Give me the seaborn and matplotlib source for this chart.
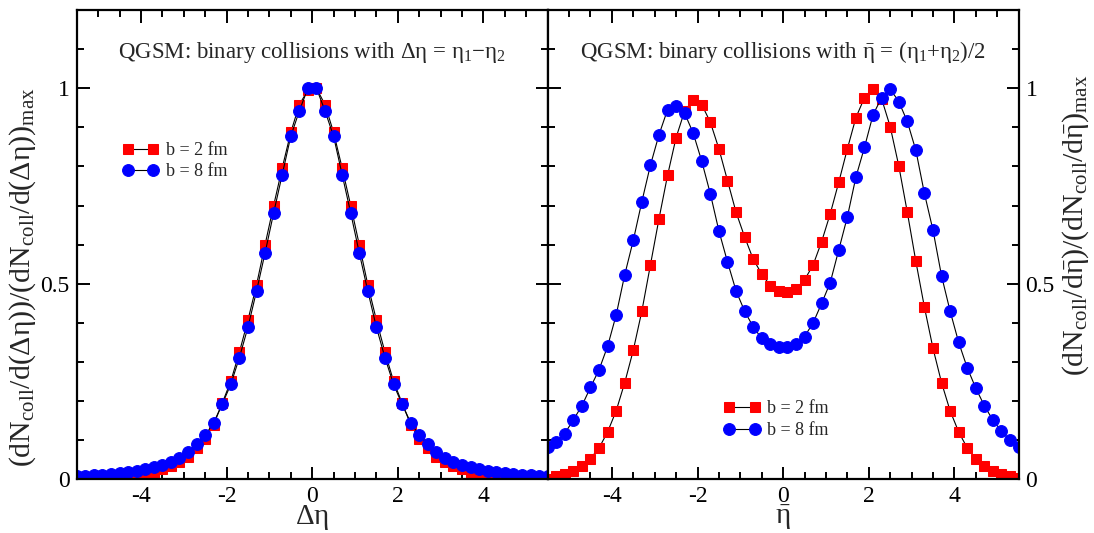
import numpy as np
import pandas as pd
import seaborn as sns
import matplotlib.pyplot as plt
from matplotlib.ticker import MultipleLocator

# bin centres (both panels use the same grid)
eta = [-5.5, -5.3, -5.1, -4.9, -4.7, -4.5, -4.3, -4.1, -3.9, -3.7, -3.5, -3.3, -3.1, -2.9,
       -2.7, -2.5, -2.3, -2.1, -1.9, -1.7, -1.5, -1.3, -1.1, -0.9, -0.7, -0.5, -0.3, -0.1,
       0.1, 0.3, 0.5, 0.7, 0.9, 1.1, 1.3, 1.5, 1.7, 1.9, 2.1, 2.3, 2.5, 2.7,
       2.9, 3.1, 3.3, 3.5, 3.7, 3.9, 4.1, 4.3, 4.5, 4.7, 4.9, 5.1, 5.3, 5.5]

# left panel: delta eta distribution
deta_b2 = [0.000, 0.001, 0.001, 0.002, 0.003, 0.004, 0.006, 0.009, 0.012, 0.017, 0.025, 0.034,
           0.045, 0.058, 0.079, 0.104, 0.140, 0.195, 0.251, 0.325, 0.407, 0.497, 0.600, 0.700,
           0.796, 0.887, 0.958, 0.995,
           1.000, 0.958, 0.887, 0.796, 0.700, 0.600, 0.497, 0.407, 0.325, 0.251, 0.195, 0.140,
           0.104, 0.079, 0.058, 0.045, 0.034, 0.025, 0.017, 0.012, 0.009, 0.006, 0.004, 0.003,
           0.002, 0.001, 0.001, 0.000]
deta_b8 = [0.008, 0.009, 0.010, 0.012, 0.014, 0.016, 0.019, 0.022, 0.025, 0.031, 0.037, 0.044,
           0.054, 0.070, 0.090, 0.112, 0.145, 0.192, 0.243, 0.311, 0.389, 0.481, 0.579, 0.681,
           0.779, 0.877, 0.942, 1.000,
           1.000, 0.942, 0.877, 0.779, 0.681, 0.579, 0.481, 0.389, 0.311, 0.243, 0.192, 0.145,
           0.112, 0.090, 0.070, 0.054, 0.044, 0.037, 0.031, 0.025, 0.022, 0.019, 0.016, 0.014,
           0.012, 0.010, 0.009, 0.008]

# right panel: mean eta distribution
meta_b2 = [0.001, 0.009, 0.014, 0.022, 0.033, 0.053, 0.080, 0.121, 0.175, 0.247, 0.330, 0.430,
           0.548, 0.666, 0.777, 0.874, 0.942, 0.970, 0.958, 0.913, 0.845, 0.764, 0.683, 0.620,
           0.563, 0.525, 0.495, 0.482,
           0.478, 0.487, 0.510, 0.548, 0.608, 0.679, 0.760, 0.845, 0.925, 0.976, 0.998, 0.973,
           0.902, 0.802, 0.683, 0.557, 0.440, 0.335, 0.247, 0.175, 0.121, 0.080, 0.053, 0.033,
           0.022, 0.014, 0.009, 0.002]
meta_b8 = [0.082, 0.095, 0.117, 0.152, 0.188, 0.235, 0.280, 0.340, 0.420, 0.523, 0.611, 0.710,
           0.803, 0.881, 0.945, 0.955, 0.936, 0.885, 0.813, 0.730, 0.635, 0.556, 0.482, 0.430,
           0.390, 0.360, 0.345, 0.337,
           0.337, 0.345, 0.365, 0.400, 0.450, 0.503, 0.587, 0.671, 0.773, 0.849, 0.932, 0.976,
           0.998, 0.966, 0.915, 0.841, 0.731, 0.637, 0.520, 0.430, 0.350, 0.285, 0.233, 0.188,
           0.151, 0.123, 0.100, 0.082]

labels = ["b = 2 fm", "b = 8 fm"]

sns.set_theme(style="ticks")
plt.rcParams["font.family"] = ["Liberation Serif", "DejaVu Serif"]
plt.rcParams["mathtext.fontset"] = "custom"
plt.rcParams["mathtext.rm"] = "Liberation Serif"
plt.rcParams["mathtext.it"] = "Liberation Serif"
plt.rcParams["mathtext.bf"] = "Liberation Serif:bold"
plt.rcParams["mathtext.fallback"] = "stix"
plt.rcParams["axes.unicode_minus"] = False

fig = plt.figure(figsize=(10.94, 5.33), dpi=100)
ax1 = fig.add_axes([0.0701, 0.1008, 0.4305, 0.8804])
ax2 = fig.add_axes([0.5006, 0.1008, 0.4305, 0.8804])


def draw(ax, y_sq, y_ci):
    df = pd.DataFrame({"x": eta, "b2": y_sq, "b8": y_ci})
    sns.lineplot(data=df, x="x", y="b2", ax=ax, color="black", linewidth=0.8,
                 marker="s", markersize=7.5, markerfacecolor="#ff0000",
                 markeredgecolor="#ff0000", label=labels[0])
    sns.lineplot(data=df, x="x", y="b8", ax=ax, color="black", linewidth=0.8,
                 marker="o", markersize=8.5, markerfacecolor="#0000ff",
                 markeredgecolor="#0000ff", label=labels[1])
    ax.set_xlim(-5.5, 5.5)
    ax.set_ylim(0, 1.2)
    ax.set_xticks([-4, -2, 0, 2, 4])
    ax.set_xticklabels(["-4", "-2", "0", "2", "4"])
    ax.set_yticks([0, 0.5, 1])
    ax.set_yticklabels(["0", "0.5", "1"])
    ax.xaxis.set_minor_locator(MultipleLocator(0.5))
    ax.yaxis.set_minor_locator(MultipleLocator(0.1))
    ax.tick_params(which="both", direction="in", top=True, right=True, left=True,
                   bottom=True, width=1.4, labelsize=17, colors="black", pad=5)
    ax.tick_params(which="major", length=9)
    ax.tick_params(which="minor", length=5)
    for s in ax.spines.values():
        s.set_linewidth(1.6)
        s.set_color("black")


draw(ax1, deta_b2, deta_b8)
draw(ax2, meta_b2, meta_b8)

ax1.tick_params(which="both", labelleft=True, labelright=False)
ax2.tick_params(which="both", labelleft=False, labelright=True)

ax1.set_xlabel(r"$\Delta\eta$", fontsize=21, labelpad=-3)
ax2.set_xlabel(r"$\bar{\eta}$", fontsize=21, labelpad=-3)
ax1.set_ylabel(r"$(\mathrm{dN}_{\mathrm{coll}}/\mathrm{d}(\Delta\eta))/(\mathrm{dN}_{\mathrm{coll}}/\mathrm{d}(\Delta\eta))_{\mathrm{max}}$",
               fontsize=21.5)
ax1.yaxis.set_label_coords(-0.082, 0.43)
ax2.yaxis.set_label_position("right")
ax2.set_ylabel(r"$(\mathrm{dN}_{\mathrm{coll}}/\mathrm{d}\bar{\eta})/(\mathrm{dN}_{\mathrm{coll}}/\mathrm{d}\bar{\eta})_{\mathrm{max}}$",
               fontsize=21.5, rotation=90)
ax2.yaxis.set_label_coords(1.089, 0.542)

ax1.text(0.5, 0.91, r"QGSM: binary collisions with $\Delta\eta$ = $\eta_1$$-$$\eta_2$",
         transform=ax1.transAxes, ha="center", va="center", fontsize=16.5)
ax2.text(0.5, 0.91, r"QGSM: binary collisions with $\bar{\eta}$ = ($\eta_1$+$\eta_2$)/2",
         transform=ax2.transAxes, ha="center", va="center", fontsize=16.5)

ax1.legend(loc="center left", bbox_to_anchor=(0.078, 0.678), frameon=False,
           fontsize=13, handlelength=2.0, handletextpad=0.4, labelspacing=0.25,
           borderpad=0, numpoints=2)
ax2.legend(loc="center left", bbox_to_anchor=(0.355, 0.127), frameon=False,
           fontsize=13, handlelength=2.0, handletextpad=0.4, labelspacing=0.25,
           borderpad=0, numpoints=2)

fig.savefig("out.png", dpi=100)
plt.close(fig)
